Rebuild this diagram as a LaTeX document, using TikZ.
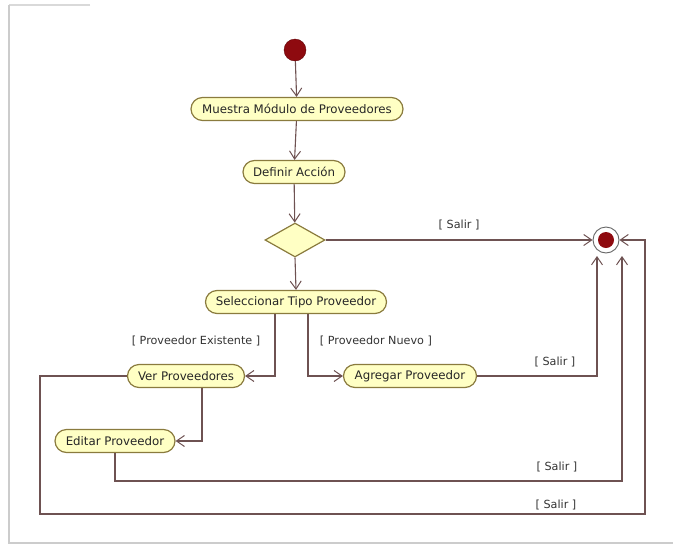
\documentclass[tikz,border=0pt]{standalone}
\usepackage{fontspec}
\setmainfont{DejaVu Sans}
\usetikzlibrary{arrows.meta,shapes.geometric}
\definecolor{actfill}{HTML}{FFFFC4}
\definecolor{actline}{HTML}{8A7B3E}
\definecolor{flow}{HTML}{6E5252}
\definecolor{dotred}{HTML}{8E0A0F}
\tikzset{
  activity/.style={draw=actline, fill=actfill, line width=1.2pt,
    rounded corners=11.5pt, minimum height=23pt, inner sep=0pt,
    font=\fontsize{11.8}{13}\selectfont, text=black!85},
  decision/.style={diamond, draw=actline, fill=actfill, line width=1.2pt,
    minimum width=60pt, minimum height=34pt, inner sep=0pt},
  flowline/.style={draw=flow, line width=1.1pt},
  flowarrow/.style={flowline, -{Straight Barb[length=8pt,width=11pt,line width=1pt]}},
  guard/.style={font=\fontsize{11.2}{13}\selectfont, text=black!80, inner sep=1pt},
}
\begin{document}
\begin{tikzpicture}[x=1pt,y=-1pt]
  \useasboundingbox (0,0) rectangle (673,547);
  % page edge shadow
  \draw[gray!30, line width=1.5pt] (90,5) -- (9,5);
  \draw[gray!40, line width=2.5pt] (9,5) -- (9,543) -- (673,543);

  % start and end states
  \node[circle, fill=dotred, draw=dotred!70!black, minimum size=22pt, inner sep=0pt] (start) at (295,50) {};
  \node[circle, fill=white, draw=gray!80!black, line width=0.9pt, minimum size=26pt, inner sep=0pt] (final) at (606,240) {};
  \node[circle, fill=dotred, minimum size=16pt, inner sep=0pt] (finaldot) at (606,240) {};

  % activities
  \node[activity, minimum width=212pt] (muestra) at (297,109) {Muestra Módulo de Proveedores};
  \node[activity, minimum width=102pt] (definir) at (294,172) {Definir Acción};
  \node[decision] (dec) at (295,240) {};
  \node[activity, minimum width=181pt] (sel) at (296,302) {Seleccionar Tipo Proveedor};
  \node[activity, minimum width=117pt] (ver) at (186,376) {Ver Proveedores};
  \node[activity, minimum width=133pt] (agr) at (410,376) {Agregar Proveedor};
  \node[activity, minimum width=120pt] (edi) at (115,441) {Editar Proveedor};

  % routing helpers
  \coordinate (xexist) at (275,0);
  \coordinate (xnew) at (308,0);
  \coordinate (xver) at (202,0);
  \coordinate (xleft) at (40,0);
  \coordinate (xright) at (645,0);
  \coordinate (yedit) at (0,481);
  \coordinate (ybottom) at (0,514);
  \coordinate (endA) at (597,256);
  \coordinate (endB) at (622,256);

  % flows
  \draw[flowarrow] (start) -- (muestra);
  \draw[flowarrow] (muestra) -- (definir);
  \draw[flowarrow] (definir) -- (dec);
  \draw[flowarrow] (dec.east) -- node[guard, above=8pt] {[ Salir ]} (final.west);
  \draw[flowarrow] (dec.south) -- (sel.north);
  \draw[flowarrow] (xexist |- sel.south) |- (ver.east);
  \draw[flowarrow] (xnew |- sel.south) |- (agr.west);
  \draw[flowarrow] (xver |- ver.south) |- (edi.east);
  \draw[flowarrow] (agr.east) -| (endA);
  \draw[flowarrow] (edi.south) -- (edi.south |- yedit) -| (endB);
  \draw[flowarrow] (ver.west) -- (xleft |- ver.west) -- (xleft |- ybottom)
    -- (xright |- ybottom) -- (xright |- final.east) -- (final.east);

  % guards
  \node[guard] (gexist) at (196,341) {[ Proveedor Existente ]};
  \node[guard] (gnew) at (376,341) {[ Proveedor Nuevo ]};
  \node[guard] (gsalir1) at (555,362) {[ Salir ]};
  \node[guard] (gsalir2) at (557,467) {[ Salir ]};
  \node[guard] (gsalir3) at (556,505) {[ Salir ]};
\end{tikzpicture}
\end{document}
